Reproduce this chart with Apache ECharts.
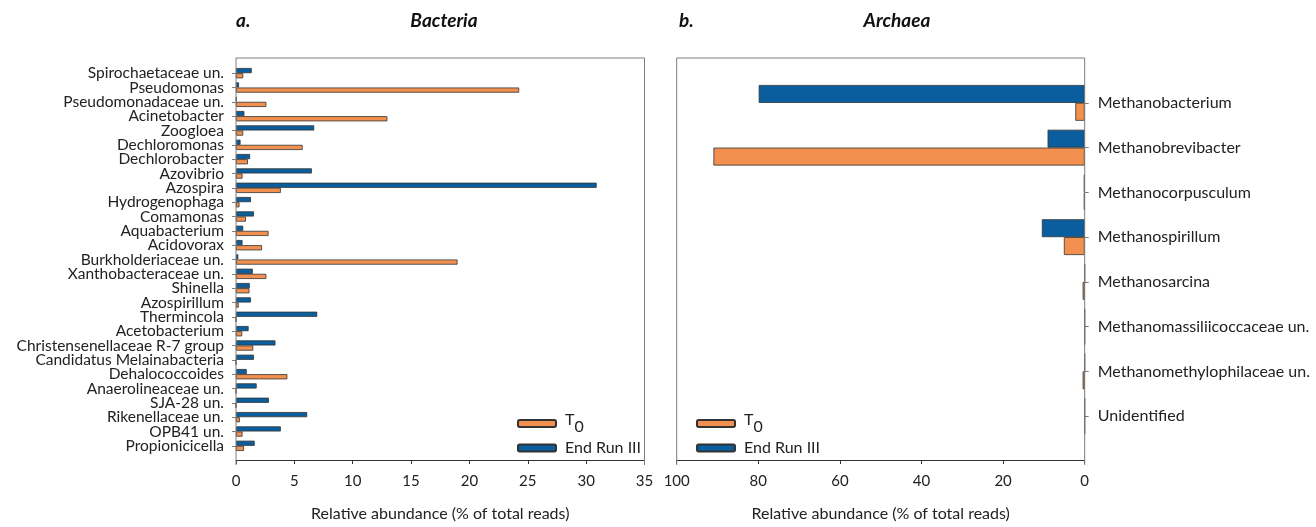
<!DOCTYPE html>
<html>
<head>
<meta charset="utf-8">
<script src="https://cdn.jsdelivr.net/npm/echarts@6/dist/echarts.min.js"></script>
<style>
html,body{margin:0;padding:0;background:#fff;}
#chart{width:1316px;height:527px;}
</style>
</head>
<body>
<div id="chart"></div>
<script>
// ---- Data ----
const bacteriaCategories = [
  'Spirochaetaceae un.','Pseudomonas','Pseudomonadaceae un.','Acinetobacter','Zoogloea',
  'Dechloromonas','Dechlorobacter','Azovibrio','Azospira','Hydrogenophaga','Comamonas',
  'Aquabacterium','Acidovorax','Burkholderiaceae un.','Xanthobacteraceae un.','Shinella',
  'Azospirillum','Thermincola','Acetobacterium','Christensenellaceae R-7 group',
  'Candidatus Melainabacteria','Dehalococcoides','Anaerolineaceae un.','SJA-28 un.',
  'Rikenellaceae un.','OPB41 un.','Propionicicella'
];
const bacteriaT0 = [0.62,24.26,2.6,12.97,0.62,5.71,1.02,0.56,3.84,0.3,0.85,
  2.79,2.23,18.98,2.6,1.15,0.23,0,0.53,1.48,0,4.4,0,0,0.33,0.56,0.69];
const bacteriaEnd = [1.35,0.26,0.05,0.72,6.7,0.39,1.21,6.5,30.9,1.28,1.54,
  0.62,0.56,0.2,1.44,1.18,1.28,6.96,1.08,3.38,1.54,0.92,1.77,2.82,6.1,3.84,1.6];

const archaeaCategories = [
  'Methanobacterium','Methanobrevibacter','Methanocorpusculum','Methanospirillum',
  'Methanosarcina','Methanomassiliicoccaceae un.','Methanomethylophilaceae un.','Unidentified'
];
const archaeaT0  = [2.3,91.0,0.2,5.1,0.5,0,0.5,0];
const archaeaEnd = [79.9,9.1,0.2,10.5,0,0,0,0];

const bacteriaTicks = [0,5,10,15,20,25,30,35];
const archaeaTicks = [0,20,40,60,80,100];

const seriesNames = ['T0','End Run III'];
const colors = {T0:'#F2914F', End:'#0B5E9E'};

// ---- Chart ----
const FONT = 'Lato';
const chart = echarts.init(document.getElementById('chart'), null, {renderer:'canvas'});
const frameGray = '#7c7c7c';
const axisDark = '#333';
const txt = '#222';

function bar(name, data, xi, color, gap){
  return {
    name: name, type:'bar', data: data, xAxisIndex: xi, yAxisIndex: xi,
    barGap: '0%', barCategoryGap: gap,
    itemStyle:{color: color, borderColor:'#333', borderWidth:0.8},
    emphasis:{disabled:true}, animation:false
  };
}

const legendCommon = {
  orient:'vertical', itemWidth:38, itemHeight:7, itemGap:5, padding:0,
  data: seriesNames,
  textStyle:{fontFamily:FONT, fontSize:16, color:txt, padding:[0,0,0,4],
    rich:{
      a:{fontFamily:FONT, fontSize:16, color:txt, lineHeight:23, verticalAlign:'top'},
      b:{fontFamily:FONT, fontSize:16, color:txt, lineHeight:23, verticalAlign:'bottom'}
    }},
  formatter: n => n === 'T0' ? '{a|T}{b|0}' : n,
  selectedMode:false
};

const titleStyle = {fontFamily:FONT, fontSize:19, fontWeight:'bold', fontStyle:'italic', color:'#111'};

const option = {
  animation:false,
  textStyle:{fontFamily:FONT},
  title:[
    {text:'a.', left:236, top:11, padding:0, textStyle:titleStyle},
    {text:'Bacteria', left:444, textAlign:'center', top:11, padding:0, textStyle:titleStyle},
    {text:'b.', left:679, top:11, padding:0, textStyle:titleStyle},
    {text:'Archaea', left:897, textAlign:'center', top:11, padding:0, textStyle:titleStyle}
  ],
  grid:[
    {left:236, top:66, width:408.5, height:392},
    {left:676.7, top:80.5, width:408, height:363}
  ],
  legend:[
    Object.assign({left:517, top:412}, legendCommon),
    Object.assign({left:696, top:412}, legendCommon)
  ],
  xAxis:[
    {type:'value', gridIndex:0, min:bacteriaTicks[0], max:bacteriaTicks[bacteriaTicks.length-1], interval:5,
     offset:7,
     axisLine:{show:true, lineStyle:{color:axisDark, width:1}},
     axisTick:{show:true, length:4, lineStyle:{color:axisDark}},
     splitLine:{show:false},
     axisLabel:{fontFamily:FONT, fontSize:15, color:txt, margin:14},
     name:'Relative abundance (% of total reads)', nameLocation:'middle', nameGap:46,
     nameTextStyle:{fontFamily:FONT, fontSize:16, color:txt}},
    {type:'value', gridIndex:1, min:archaeaTicks[0], max:archaeaTicks[archaeaTicks.length-1], interval:20,
     inverse:true, offset:21.5,
     axisLine:{show:true, lineStyle:{color:axisDark, width:1}},
     axisTick:{show:true, length:4, lineStyle:{color:axisDark}},
     splitLine:{show:false},
     axisLabel:{fontFamily:FONT, fontSize:15, color:txt, margin:14},
     name:'Relative abundance (% of total reads)', nameLocation:'middle', nameGap:46,
     nameTextStyle:{fontFamily:FONT, fontSize:16, color:txt}}
  ],
  yAxis:[
    {type:'category', gridIndex:0, data:bacteriaCategories, inverse:true,
     axisLine:{show:false},
     axisTick:{show:true, alignWithLabel:true, length:4, lineStyle:{color:frameGray}},
     axisLabel:{fontFamily:FONT, fontSize:15.5, color:txt, margin:12, interval:0}},
    {type:'category', gridIndex:1, data:archaeaCategories, inverse:true, position:'right',
     axisLine:{show:false},
     axisTick:{show:true, alignWithLabel:true, length:4, lineStyle:{color:frameGray}},
     axisLabel:{fontFamily:FONT, fontSize:16, color:txt, margin:13, interval:0}}
  ],
  series:[
    bar('End Run III', bacteriaEnd, 0, colors.End, '28%'),
    bar('T0', bacteriaT0, 0, colors.T0, '28%'),
    bar('End Run III', archaeaEnd, 1, colors.End, '20%'),
    bar('T0', archaeaT0, 1, colors.T0, '20%')
  ],
  graphic:[
    {type:'polyline', silent:true, z:100,
     shape:{points:[[236,465],[236,58],[644.5,58],[644.5,465]]},
     style:{fill:null, stroke:frameGray, lineWidth:1}},
    {type:'polyline', silent:true, z:100,
     shape:{points:[[676.7,465],[676.7,58],[1084.7,58],[1084.7,465]]},
     style:{fill:null, stroke:frameGray, lineWidth:1}}
  ]
};
chart.setOption(option);
</script>
</body>
</html>
